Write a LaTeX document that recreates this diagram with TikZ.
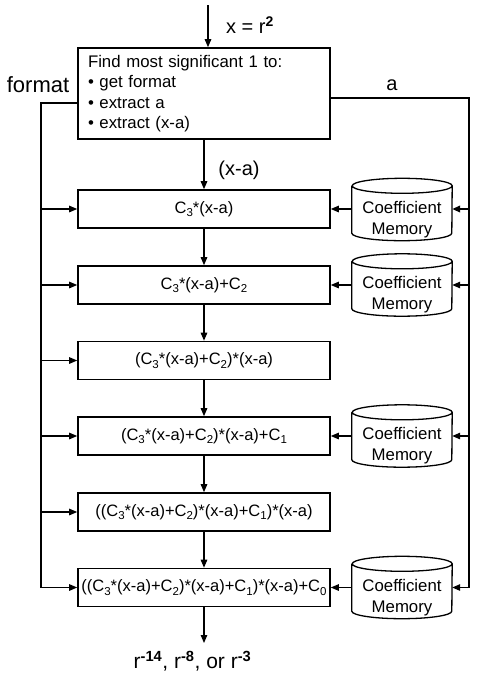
\documentclass[tikz,border=0pt]{standalone}
\usepackage{fontspec}
\setmainfont{Liberation Sans}
\usetikzlibrary{arrows.meta}
\newcommand\sbs[1]{\raisebox{-0.22em}{\fontsize{11.5}{12}\selectfont #1}}
\newcommand\drawcyl[1]{%
  \draw[cylline] ([yshift=-7.5pt]#1.north west) -- ([yshift=7.5pt]#1.south west)
    arc[start angle=180,end angle=360,x radius=50pt,y radius=7.5pt]
    -- ([yshift=-7.5pt]#1.north east)
    arc[start angle=0,end angle=360,x radius=50pt,y radius=7.5pt];}
\begin{document}
\begin{tikzpicture}[x=1pt,y=1pt,
  box/.style={draw, line width=1.6pt, minimum width=252pt, minimum height=38pt, inner sep=1pt, font=\fontsize{16.5}{19}\selectfont},
  conn/.style={line width=1.2pt, -{Triangle[length=8pt,width=6.5pt]}},
  cylline/.style={line width=1.3pt},
  cyl/.style={inner sep=0pt, minimum width=100pt, minimum height=62pt},
  cyltext/.style={inner sep=0pt, align=center, font=\fontsize{16.8}{21}\selectfont},
  lbl/.style={inner sep=0pt, font=\fontsize{20}{24}\selectfont}]
\useasboundingbox (0,0) rectangle (484,-678);

% top box
\node[draw, line width=1.6pt, minimum width=252pt, minimum height=91pt, text width=232pt,
  inner xsep=10pt, inner ysep=0pt, align=left, font=\fontsize{16.8}{20.5}\selectfont] (top) at (204,-93.5)
  {Find most significant 1 to:\\ \textbullet\ get format\\ \textbullet\ extract a\\ \textbullet\ extract (x-a)};

% computation boxes
\node[box] (b1) at (204,-209) {C\sbs{3}*(x-a)};
\node[box] (b2) at (204,-285) {C\sbs{3}*(x-a)+C\sbs{2}};
\node[box] (b3) at (204,-360.5) {(C\sbs{3}*(x-a)+C\sbs{2})*(x-a)};
\node[box] (b4) at (204,-436) {(C\sbs{3}*(x-a)+C\sbs{2})*(x-a)+C\sbs{1}};
\node[box] (b5) at (204,-512) {((C\sbs{3}*(x-a)+C\sbs{2})*(x-a)+C\sbs{1})*(x-a)};
\node[box] (b6) at (204,-587.5) {((C\sbs{3}*(x-a)+C\sbs{2})*(x-a)+C\sbs{1})*(x-a)+C\sbs{0}};

% coefficient memories
\node[cyl] (c1) at (402,-209.5) {};
\node[cyl] (c2) at (402,-285) {};
\node[cyl] (c4) at (402,-436) {};
\node[cyl] (c6) at (402,-587.5) {};
\drawcyl{c1}\drawcyl{c2}\drawcyl{c4}\drawcyl{c6}
\node[cyltext] (c1t) at ([yshift=-10pt]c1.center) {Coefficient\\Memory};
\node[cyltext] (c2t) at ([yshift=-10pt]c2.center) {Coefficient\\Memory};
\node[cyltext] (c4t) at ([yshift=-10pt]c4.center) {Coefficient\\Memory};
\node[cyltext] (c6t) at ([yshift=-10pt]c6.center) {Coefficient\\Memory};

% labels
\node[lbl, anchor=west] (xr) at (226,-25) {x = r\textsuperscript{\textbf{2}}};
\node[lbl, font=\fontsize{22}{26}\selectfont] (fmt) at (38,-85) {format};
\node[lbl] (alab) at (392,-85) {a};
\node[lbl] (xa) at (239,-170) {(x-a)};
\node[lbl, font=\fontsize{21}{25}\selectfont] (outl) at (192.5,-661)
  {r\textsuperscript{\textbf{-14}}, r\textsuperscript{\textbf{-8}}, or r\textsuperscript{\textbf{-3}}};

% coordinates
\coordinate (in) at (208,-5);
\coordinate (out) at (204,-643);
\coordinate (L0) at (41,-103);
\coordinate (R0) at (469,-98);

% main flow
\draw[conn] (in) -- ([xshift=4pt]top.north);
\draw[conn] (top.south) -- (b1.north);
\draw[conn] (b1.south) -- (b2.north);
\draw[conn] (b2.south) -- (b3.north);
\draw[conn] (b3.south) -- (b4.north);
\draw[conn] (b4.south) -- (b5.north);
\draw[conn] (b5.south) -- (b6.north);
\draw[conn] (b6.south) -- (out);

% format bus
\draw[conn] ([yshift=-9.5pt]top.west) -- (L0) -- (L0 |- b6.west) -- (b6.west);
\draw[conn] (L0 |- b1.west) -- (b1.west);
\draw[conn] (L0 |- b2.west) -- (b2.west);
\draw[conn] (L0 |- b3.west) -- (b3.west);
\draw[conn] (L0 |- b4.west) -- (b4.west);
\draw[conn] (L0 |- b5.west) -- (b5.west);

% a bus
\draw[conn] ([yshift=-4.5pt]top.east) -- (R0) -- (R0 |- c6.east) -- (c6.east);
\draw[conn, line width=2.2pt] (R0 |- b1.east) -- (c1.east |- b1.east);
\draw[conn] (R0 |- c2.east) -- (c2.east);
\draw[conn] (R0 |- c4.east) -- (c4.east);

% memory to boxes
\draw[conn] (c1.west |- b1.east) -- (b1.east);
\draw[conn] (c2.west) -- (b2.east);
\draw[conn] (c4.west) -- (b4.east);
\draw[conn] (c6.west) -- (b6.east);
\end{tikzpicture}
\end{document}
